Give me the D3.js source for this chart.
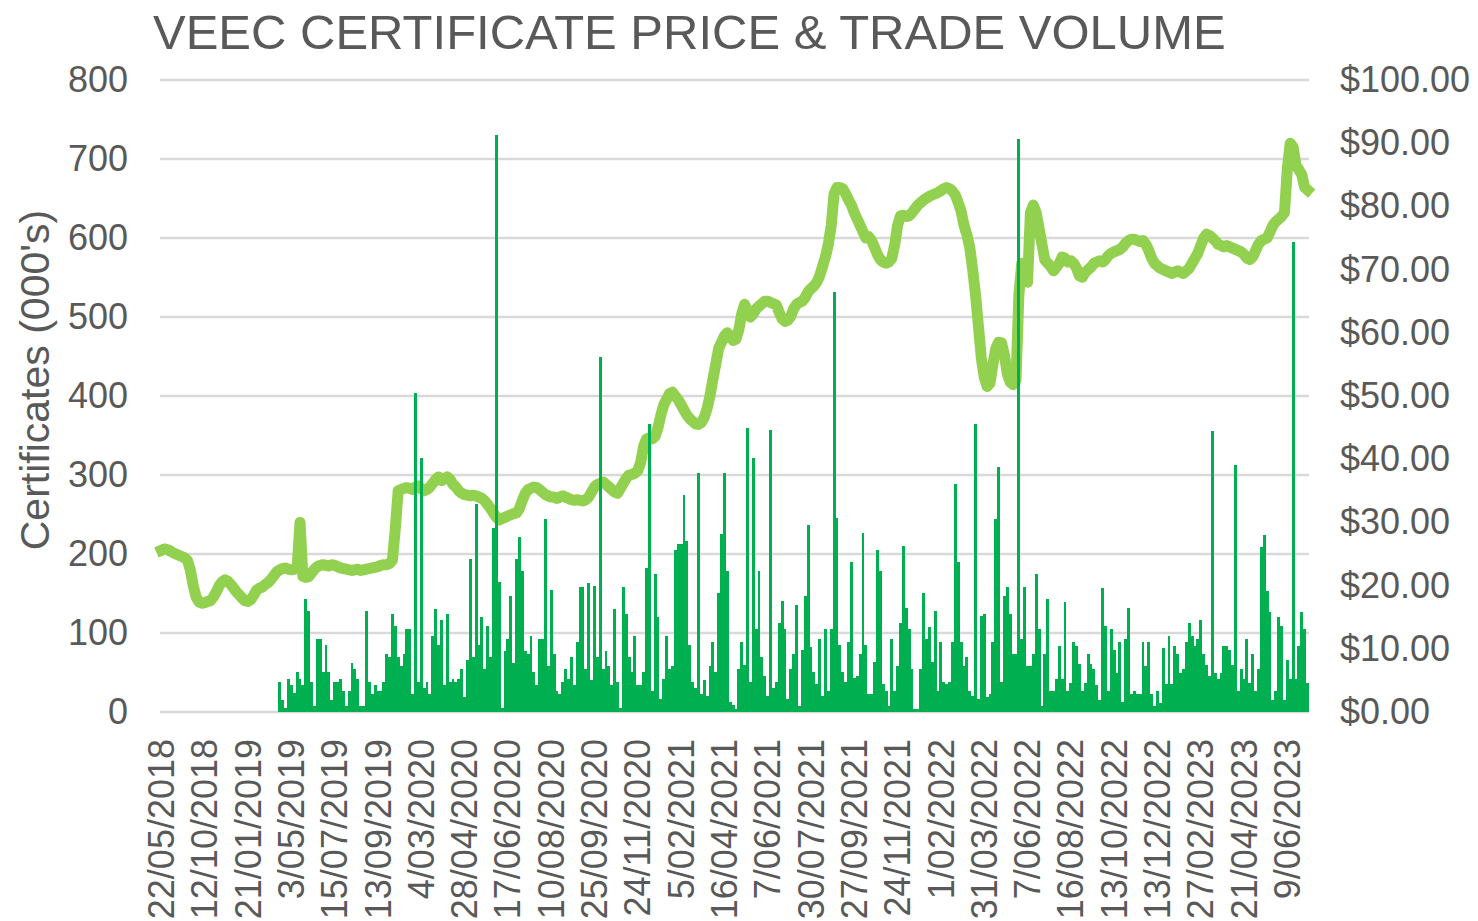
<!DOCTYPE html>
<html>
<head>
<meta charset="utf-8">
<script src="https://cdn.jsdelivr.net/npm/d3@7"></script>
<style>
  html, body { margin: 0; padding: 0; background: #fff; }
  svg { display: block; font-family: "Liberation Sans", Arial, sans-serif; }
</style>
</head>
<body>
<div id="chart"></div>
<script>
// Category axis labels (one shown every 15 trading points)
const dateLabels = [
  "22/05/2018", "12/10/2018", "21/01/2019", "3/05/2019", "15/07/2019", "13/09/2019",
  "4/03/2020", "28/04/2020", "17/06/2020", "10/08/2020", "25/09/2020", "24/11/2020",
  "5/02/2021", "16/04/2021", "7/06/2021", "30/07/2021", "27/09/2021", "24/11/2021",
  "1/02/2022", "31/03/2022", "7/06/2022", "16/08/2022", "13/10/2022", "13/12/2022",
  "27/02/2023", "21/04/2023", "9/06/2023"
];
const labelEvery = 15;

// Trade volume, certificates (000's), one per trading point
const volume = [
  0, 0, 0, 0, 0, 0, 0, 0, 0, 0,
  0, 0, 0, 0, 0, 0, 0, 0, 0, 0,
  0, 0, 0, 0, 0, 0, 0, 0, 0, 0,
  0, 0, 0, 0, 0, 0, 0, 0, 0, 0,
  0, 38, 15, 5, 42, 34, 24, 51, 42, 34,
  143, 128, 38, 8, 92, 92, 51, 85, 51, 15,
  38, 38, 42, 27, 8, 27, 62, 54, 42, 8,
  8, 128, 38, 23, 34, 27, 27, 38, 73, 70,
  124, 109, 70, 58, 73, 105, 105, 23, 404, 38,
  321, 30, 38, 23, 96, 131, 85, 116, 34, 124,
  38, 42, 38, 42, 54, 19, 66, 194, 70, 263,
  85, 120, 54, 109, 70, 233, 730, 164, 5, 77,
  92, 147, 62, 194, 222, 178, 77, 73, 96, 51,
  34, 92, 92, 244, 58, 154, 73, 27, 23, 38,
  54, 42, 70, 34, 89, 158, 158, 54, 163, 40,
  160, 70, 450, 54, 77, 58, 34, 131, 38, 5,
  158, 124, 70, 51, 96, 34, 34, 51, 182, 365,
  27, 175, 120, 16, 42, 96, 54, 58, 205, 213,
  213, 275, 217, 85, 38, 30, 302, 23, 41, 20,
  58, 89, 51, 151, 225, 302, 179, 13, 9, 4,
  55, 89, 60, 360, 38, 322, 105, 179, 69, 46,
  20, 357, 30, 38, 113, 140, 105, 16, 55, 74,
  136, 8, 78, 147, 237, 82, 51, 35, 93, 20,
  105, 27, 105, 532, 245, 85, 51, 38, 89, 190,
  43, 46, 74, 226, 85, 23, 23, 63, 205, 179,
  35, 27, 8, 93, 27, 58, 113, 210, 132, 105,
  55, 4, 4, 55, 151, 93, 108, 63, 128, 27,
  89, 38, 35, 38, 89, 288, 190, 89, 58, 69,
  27, 20, 365, 16, 121, 124, 19, 23, 89, 244,
  310, 38, 147, 158, 124, 74, 74, 725, 93, 158,
  58, 58, 73, 175, 105, 7, 73, 143, 26, 26,
  42, 84, 42, 139, 26, 37, 88, 84, 61, 26,
  37, 73, 61, 54, 34, 15, 157, 109, 26, 105,
  78, 50, 88, 13, 92, 132, 23, 26, 23, 23,
  88, 58, 88, 23, 7, 26, 12, 81, 35, 96,
  35, 84, 73, 50, 54, 88, 113, 96, 84, 92,
  116, 73, 60, 45, 356, 50, 42, 50, 84, 84,
  78, 60, 313, 26, 54, 42, 92, 37, 73, 26,
  54, 209, 224, 153, 127, 15, 26, 120, 109, 15,
  66, 42, 595, 42, 84, 127, 105, 37
];

// Certificate price ($), one per trading point
const price = [
  25.6, 25.8, 25.7, 25.5, 25.2, 25.0, 24.8, 24.6, 24.4, 24.0,
  22.5, 20.0, 18.2, 17.4, 17.2, 17.3, 17.5, 17.6, 18.2, 19.0,
  20.0, 20.6, 20.9, 20.7, 20.2, 19.6, 19.0, 18.5, 18.0, 17.6,
  17.5, 17.8, 18.5, 19.3, 19.6, 19.8, 20.2, 20.5, 21.0, 21.6,
  22.2, 22.5, 22.7, 22.8, 22.6, 22.5, 22.6, 22.8, 30.0, 21.5,
  21.3, 21.4, 22.0, 22.6, 23.0, 23.2, 23.3, 23.2, 23.1, 23.3,
  23.2, 23.0, 22.8, 22.7, 22.6, 22.5, 22.4, 22.5, 22.6, 22.4,
  22.5, 22.6, 22.7, 22.8, 22.9, 23.0, 23.2, 23.3, 23.3, 23.5,
  24.0, 29.0, 35.0, 35.2, 35.4, 35.5, 35.4, 35.2, 35.6, 35.8,
  35.3, 35.0, 35.2, 35.6, 36.2, 36.8, 37.2, 36.6, 36.9, 37.2,
  36.8, 36.0, 35.6, 35.0, 34.6, 34.4, 34.3, 34.2, 34.3, 34.2,
  34.0, 33.8, 33.4, 32.8, 32.2, 31.5, 30.8, 30.4, 30.6, 30.8,
  31.0, 31.2, 31.4, 31.5, 32.2, 33.5, 34.6, 35.2, 35.4, 35.6,
  35.5, 35.2, 34.8, 34.4, 34.2, 34.0, 34.0, 33.8, 34.0, 34.2,
  34.0, 33.8, 33.6, 33.5, 33.6, 33.5, 33.4, 33.6, 34.0, 34.8,
  35.6, 36.0, 36.2, 36.4, 36.0, 35.6, 35.2, 34.8, 34.6, 35.4,
  36.2, 37.0, 37.5, 37.6, 37.8, 38.2, 39.5, 42.0, 43.2, 43.4,
  43.2, 43.6, 45.0, 47.0, 48.6, 49.5, 50.4, 50.6, 50.0, 49.4,
  48.6, 47.8, 47.0, 46.4, 46.0, 45.6, 45.5, 45.8, 46.6, 48.0,
  50.0, 52.6, 55.0, 57.5, 58.5, 59.5, 60.0, 59.4, 58.8, 59.0,
  60.5, 63.0, 64.5, 63.4, 62.5, 63.0, 63.8, 64.2, 64.6, 65.0,
  65.0, 64.8, 64.6, 64.4, 63.2, 62.2, 61.8, 62.0, 62.6, 63.8,
  64.5, 64.8, 65.0, 65.6, 66.5, 67.0, 67.4, 68.0, 69.0, 70.5,
  72.0, 74.0, 77.0, 82.0, 83.0, 83.0, 82.8, 82.0, 81.0, 80.2,
  79.0, 78.0, 77.0, 76.0, 75.0, 75.2, 74.6, 73.5, 72.4, 71.6,
  71.2, 71.0, 71.2, 71.8, 74.0, 77.0, 78.5, 78.6, 78.4, 78.5,
  79.0, 79.6, 80.2, 80.6, 81.0, 81.3, 81.6, 81.8, 82.0, 82.2,
  82.5, 82.8, 83.0, 82.8, 82.4, 81.8, 80.6, 79.2, 77.0, 75.5,
  73.5, 70.0, 66.0, 61.0, 56.0, 53.0, 51.5, 52.0, 55.0, 57.5,
  58.5, 58.4, 56.5, 53.5, 52.2, 51.8, 52.5, 66.0, 71.0, 69.5,
  68.0, 79.0, 80.2, 79.0, 76.5, 74.0, 71.5, 71.0, 70.5, 69.8,
  70.4, 71.0, 72.0, 71.8, 71.2, 71.4, 71.0, 70.2, 69.0, 68.8,
  69.6, 70.0, 70.4, 71.0, 71.2, 71.4, 71.2, 71.6, 72.2, 72.6,
  72.8, 73.0, 73.2, 73.6, 74.2, 74.6, 74.8, 74.8, 74.6, 74.4,
  74.6, 74.0, 73.0, 71.8, 71.0, 70.6, 70.2, 70.0, 69.8, 69.6,
  69.4, 69.6, 69.8, 69.6, 69.4, 69.8, 70.2, 71.0, 71.8, 72.6,
  73.8, 75.0, 75.6, 75.4, 75.0, 74.6, 74.0, 73.8, 73.6, 73.8,
  73.6, 73.4, 73.2, 73.0, 72.8, 72.4, 71.8, 71.6, 72.0, 73.0,
  74.0, 74.6, 74.8, 75.0, 76.0, 77.0, 77.6, 78.0, 78.4, 79.0,
  86.0, 90.0, 89.4, 86.5, 85.8, 85.0, 83.0, 82.6
];

const volumeTicks = [0, 100, 200, 300, 400, 500, 600, 700, 800];
const priceTicks = [0, 10, 20, 30, 40, 50, 60, 70, 80, 90, 100];

// Layout
const width = 1478;
const height = 921;
const margin = { top: 80, right: 169, bottom: 209, left: 160 };
const textColor = "#595959";
const barColor = "#00B050";
const lineColor = "#92D050";

const svg = d3.select("#chart")
  .append("svg")
  .attr("width", width)
  .attr("height", height);

// Scales
const x = d3.scaleBand()
  .domain(d3.range(price.length))
  .range([margin.left, width - margin.right])
  .padding(0);

const yVol = d3.scaleLinear()
  .domain([0, 800])
  .range([height - margin.bottom, margin.top]);

const yPrice = d3.scaleLinear()
  .domain([0, 100])
  .range([height - margin.bottom, margin.top]);

// Gridlines
svg.append("g")
  .selectAll("line")
  .data(volumeTicks)
  .join("line")
  .attr("x1", margin.left)
  .attr("x2", width - margin.right)
  .attr("y1", d => yVol(d))
  .attr("y2", d => yVol(d))
  .attr("stroke", "#d9d9d9")
  .attr("stroke-width", 2.5);

// Price line (drawn under the bars, as in the original)
const line = d3.line()
  .x((d, i) => x(i) + x.bandwidth() / 2)
  .y(d => yPrice(d));

svg.append("path")
  .datum(price)
  .attr("fill", "none")
  .attr("stroke", lineColor)
  .attr("stroke-width", 11)
  .attr("stroke-linejoin", "round")
  .attr("stroke-linecap", "square")
  .attr("d", line);

// Volume bars
svg.append("g")
  .attr("shape-rendering", "crispEdges")
  .selectAll("rect")
  .data(volume.map((v, i) => ({ i, v })).filter(d => d.v > 0))
  .join("rect")
  .attr("x", d => x(d.i))
  .attr("width", x.bandwidth())
  .attr("y", d => yVol(d.v))
  .attr("height", d => yVol(0) - yVol(d.v))
  .attr("fill", barColor);

// Left axis
const leftAxis = svg.append("g")
  .attr("transform", `translate(${margin.left},0)`)
  .call(d3.axisLeft(yVol).tickValues(volumeTicks).tickSize(0).tickPadding(32));
leftAxis.select(".domain").remove();
leftAxis.selectAll("text")
  .attr("fill", textColor)
  .style("font-size", "36px");

// Right axis
const rightAxis = svg.append("g")
  .attr("transform", `translate(${width - margin.right},0)`)
  .call(d3.axisRight(yPrice)
    .tickValues(priceTicks)
    .tickFormat(d => "$" + d3.format(".2f")(d))
    .tickSize(0)
    .tickPadding(31));
rightAxis.select(".domain").remove();
rightAxis.selectAll("text")
  .attr("fill", textColor)
  .style("font-size", "36px");

// Date labels, rotated
svg.append("g")
  .selectAll("text")
  .data(dateLabels)
  .join("text")
  .attr("transform", (d, k) => {
    const cx = x(k * labelEvery) + x.bandwidth() / 2;
    return `translate(${cx},${height - margin.bottom + 27}) rotate(-90)`;
  })
  .attr("text-anchor", "end")
  .attr("dy", "0.35em")
  .attr("fill", textColor)
  .style("font-size", "36px")
  .text(d => d);

// Axis title
svg.append("text")
  .attr("transform", "translate(35,380) rotate(-90)")
  .attr("text-anchor", "middle")
  .attr("dy", "0.35em")
  .attr("fill", textColor)
  .style("font-size", "41px")
  .text("Certificates (000's)");

// Chart title
svg.append("text")
  .attr("x", 153)
  .attr("y", 49)
  .attr("fill", textColor)
  .style("font-size", "49px")
  .text("VEEC CERTIFICATE PRICE & TRADE VOLUME");
</script>
</body>
</html>
